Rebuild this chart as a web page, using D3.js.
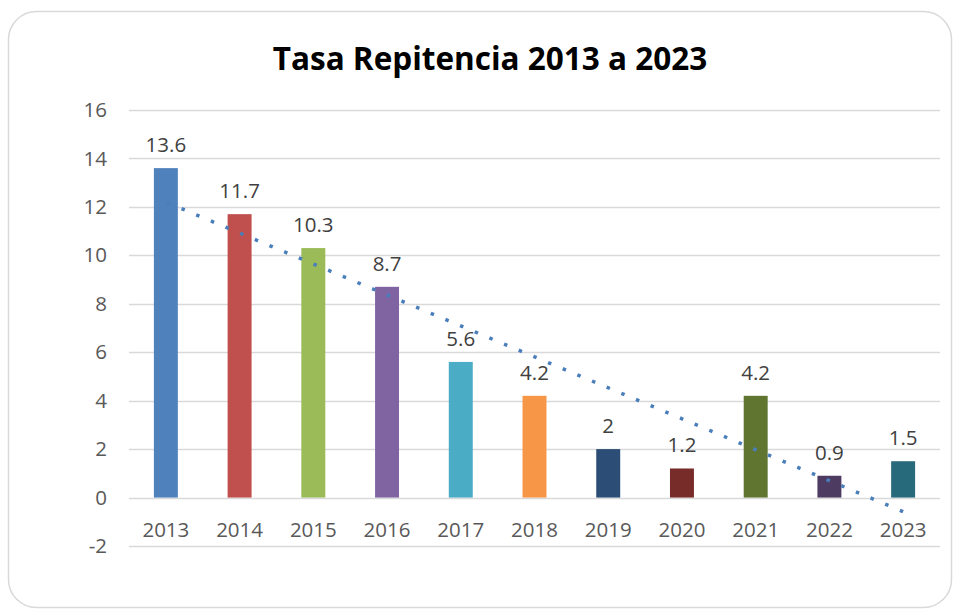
<!DOCTYPE html>
<html>
<head>
<meta charset="utf-8">
<script src="https://cdn.jsdelivr.net/npm/d3@7"></script>
<style>
  body { margin: 0; background: #fff; }
  svg { display: block; font-family: "Open Sans", "Noto Sans", sans-serif; }
</style>
</head>
<body>
<div id="chart"></div>
<script>
const years = ["2013", "2014", "2015", "2016", "2017", "2018", "2019", "2020", "2021", "2022", "2023"]
const rates = [13.6, 11.7, 10.3, 8.7, 5.6, 4.2, 2, 1.2, 4.2, 0.9, 1.5]
const barColors = ["#4F81BD", "#C0504D", "#9BBB59", "#8064A2", "#4BACC6", "#F79646",
                   "#2C4D75", "#772C2A", "#5F7530", "#4D3B62", "#276A7C"]
const yTicks = [-2, 0, 2, 4, 6, 8, 10, 12, 14, 16]

const width = 954
const height = 610
const margin = { top: 111, right: 14, bottom: 64, left: 129 }

const svg = d3.select('#chart')
  .append('svg')
  .attr('width', width)
  .attr('height', height)

// card outline
svg.append('rect')
  .attr('x', 8.5)
  .attr('y', 11.5)
  .attr('width', 943)
  .attr('height', 596)
  .attr('rx', 28)
  .attr('fill', '#fff')
  .attr('stroke', '#d9d9d9')
  .attr('stroke-width', 1.5)

svg.append('text')
  .attr('x', 490)
  .attr('y', 70)
  .attr('text-anchor', 'middle')
  .attr('font-size', 31.5)
  .attr('font-weight', 700)
  .attr('fill', '#000')
  .text('Tasa Repitencia 2013 a 2023')

const x = d3.scaleBand()
  .domain(years)
  .range([margin.left, width - margin.right])
  .paddingInner(0.675)
  .paddingOuter(0.3375)

const y = d3.scaleLinear()
  .domain([-2, 16])
  .range([546, 110])

// gridlines
svg.append('g')
  .selectAll('line')
  .data(yTicks)
  .enter().append('line')
  .attr('x1', margin.left)
  .attr('x2', width - margin.right)
  .attr('y1', d => Math.round(y(d)) + 0.5)
  .attr('y2', d => Math.round(y(d)) + 0.5)
  .attr('stroke', '#d9d9d9')
  .attr('stroke-width', 1.5)

// y axis labels
const yAxis = svg.append('g')
  .attr('transform', `translate(${107},0)`)
  .call(d3.axisLeft(y).tickValues(yTicks).tickFormat(d => String(d)).tickSize(0).tickPadding(0))
yAxis.select('.domain').remove()
yAxis.selectAll('text')
  .attr('font-family', '"Open Sans", sans-serif')
  .attr('font-size', 20.5)
  .attr('fill', '#595959')

// bars
svg.append('g')
  .selectAll('rect')
  .data(years)
  .enter().append('rect')
  .attr('x', d => x(d))
  .attr('width', x.bandwidth())
  .attr('y', (d, i) => y(rates[i]))
  .attr('height', (d, i) => y(0) - y(rates[i]))
  .attr('fill', (d, i) => barColors[i])

// data labels
svg.append('g')
  .selectAll('text')
  .data(years)
  .enter().append('text')
  .attr('x', d => x(d) + x.bandwidth() / 2)
  .attr('y', (d, i) => y(rates[i]) - 16)
  .attr('text-anchor', 'middle')
  .attr('font-size', 20.5)
  .attr('fill', '#404040')
  .text((d, i) => rates[i])

// x axis labels
const xAxis = svg.append('g')
  .attr('transform', `translate(0,${522})`)
  .call(d3.axisBottom(x).tickSize(0).tickPadding(0))
xAxis.select('.domain').remove()
xAxis.selectAll('text')
  .attr('font-family', '"Open Sans", sans-serif')
  .attr('font-size', 20.5)
  .attr('fill', '#595959')
  .attr('dy', '0.72em')

// linear trendline (least squares)
const idx = rates.map((d, i) => i)
const mx = d3.mean(idx)
const my = d3.mean(rates)
const slope = d3.sum(idx, i => (i - mx) * (rates[i] - my)) / d3.sum(idx, i => (i - mx) * (i - mx))
const icpt = my - slope * mx
const cx = i => x(years[i]) + x.bandwidth() / 2

svg.append('line')
  .attr('x1', cx(0))
  .attr('y1', y(icpt))
  .attr('x2', cx(years.length - 1))
  .attr('y2', y(icpt + slope * (years.length - 1)))
  .attr('stroke', '#4A7EBB')
  .attr('stroke-width', 3.5)
  .attr('stroke-dasharray', '3.5 12.4')
  .attr('stroke-dashoffset', -17)
</script>
</body>
</html>
